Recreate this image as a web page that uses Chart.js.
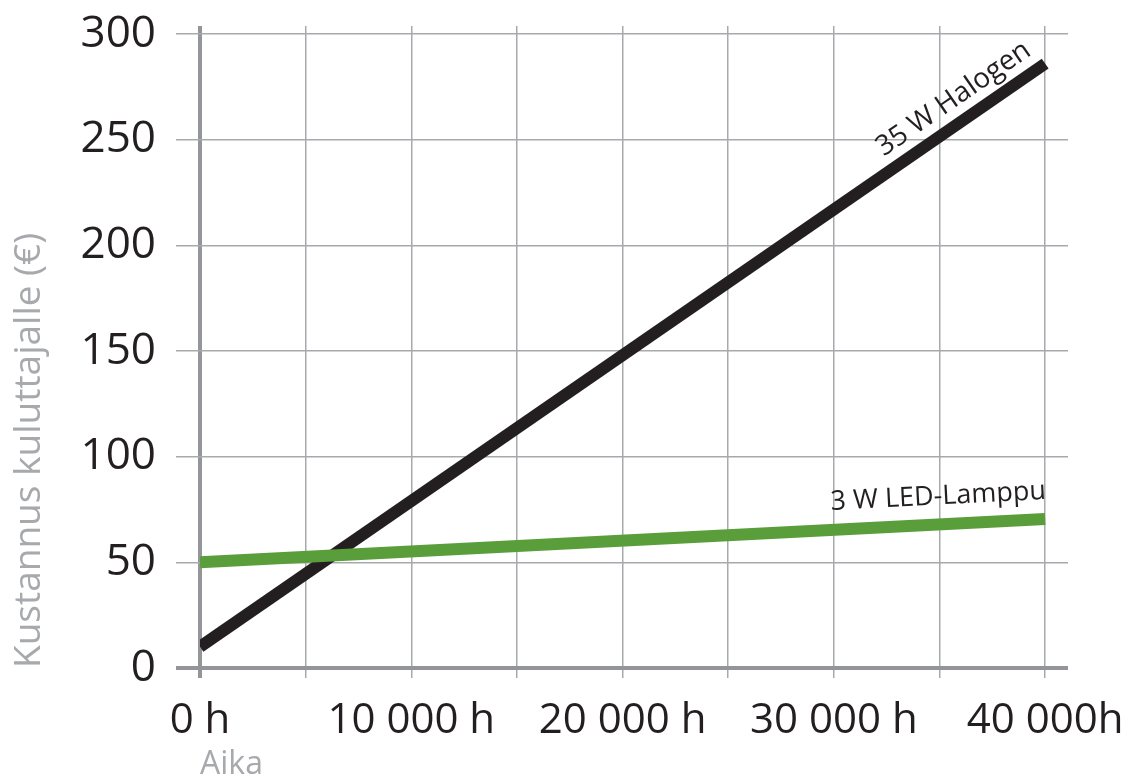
<!DOCTYPE html>
<html>
<head>
<meta charset="utf-8">
<script src="https://cdn.jsdelivr.net/npm/chart.js@4.4.0/dist/chart.umd.min.js"></script>
<style>
  html, body { margin: 0; padding: 0; background: #fff; }
  #wrap { width: 1144px; height: 782px; }
</style>
</head>
<body>
<div id="wrap"><canvas id="c"></canvas></div>
<script>
  // data
  var hours = [0, 40000];
  var halogenCost = [10, 286];
  var ledCost = [50, 70.5];
  var seriesNames = ['3 W LED-Lamppu', '35 W Halogen'];
  var xGridValues = [0, 5000, 10000, 15000, 20000, 25000, 30000, 35000, 40000];
  var xTickValues = [0, 10000, 20000, 30000, 40000];
  var xTickLabels = ['0 h', '10 000 h', '20 000 h', '30 000 h', '40 000h'];
  var yTickValues = [0, 50, 100, 150, 200, 250, 300];

  var ink = '#231f20',
    gridCol = '#a7a9ac',
    axisCol = '#939598',
    titleCol = '#a7a9ac',
    font = "'Open Sans', 'DejaVu Sans', sans-serif";

  function pts(ys) {
    return hours.map(function (h, i) { return { x: h, y: ys[i] }; });
  }

  // writes the series name along its line
  var lineLabels = {
    id: 'lineLabels',
    afterDatasetsDraw: function (chart, args, opts) {
      var ctx = chart.ctx, xs = chart.scales.x, ys = chart.scales.y;
      opts.items.forEach(function (it) {
        var ds = chart.data.datasets[it.dataset];
        var p0 = ds.data[0], p1 = ds.data[ds.data.length - 1];
        var x0 = xs.getPixelForValue(p0.x), y0 = ys.getPixelForValue(p0.y);
        var x1 = xs.getPixelForValue(p1.x), y1 = ys.getPixelForValue(p1.y);
        var ang = Math.atan2(y1 - y0, x1 - x0);
        var t = (it.at - p0.x) / (p1.x - p0.x);
        var px = x0 + (x1 - x0) * t, py = y0 + (y1 - y0) * t;
        ctx.save();
        ctx.translate(px, py);
        ctx.rotate(ang);
        ctx.font = it.size + 'px ' + font;
        ctx.fillStyle = ink;
        ctx.textAlign = 'right';
        ctx.textBaseline = 'alphabetic';
        ctx.fillText(ds.label, 0, -it.offset);
        ctx.restore();
      });
    }
  };

  function asTicks(vals) {
    return vals.map(function (v) { return { value: v }; });
  }

  new Chart(document.getElementById('c'), {
    type: 'line',
    data: {
      datasets: [
        { label: seriesNames[0], data: pts(ledCost), borderColor: '#5a9e3c', borderWidth: 12, pointRadius: 0, tension: 0 },
        { label: seriesNames[1], data: pts(halogenCost), borderColor: ink, borderWidth: 12, pointRadius: 0, tension: 0 }
      ]
    },
    options: {
      responsive: true,
      maintainAspectRatio: false,
      animation: false,
      devicePixelRatio: 1,
      layout: { padding: { top: 26, right: 76, left: 0, bottom: 0 } },
      plugins: {
        legend: { display: false },
        tooltip: { enabled: false },
        lineLabels: {
          items: [
            { dataset: 0, at: 40100, offset: 20, size: 27 },
            { dataset: 1, at: 39800, offset: 15, size: 28 }
          ]
        }
      },
      scales: {
        x: {
          type: 'linear',
          min: 0,
          max: 41080,
          afterBuildTicks: function (s) { s.ticks = asTicks(xGridValues); },
          afterFit: function (s) { s.height = 114; },
          ticks: {
            autoSkip: false,
            maxRotation: 0,
            padding: 18,
            color: ink,
            font: { family: font, size: 42 },
            callback: function (v) {
              var i = xTickValues.indexOf(v);
              return i < 0 ? '' : xTickLabels[i];
            }
          },
          grid: {
            color: function (c) { return c.tick && c.tick.value === 0 ? axisCol : gridCol; },
            lineWidth: function (c) { return c.tick && c.tick.value === 0 ? 4 : 1.5; },
            tickLength: 10
          },
          border: { display: false },
          title: {
            display: true,
            text: 'Aika',
            align: 'start',
            color: titleCol,
            font: { family: font, size: 32, lineHeight: 1.1 },
            padding: { top: 0, bottom: 0 }
          }
        },
        y: {
          min: 0,
          max: 303.8,
          afterBuildTicks: function (s) { s.ticks = asTicks(yTickValues); },
          afterFit: function (s) { s.width = 200; },
          ticks: {
            padding: 20,
            color: ink,
            // small lineHeight keeps the top label from pushing the plot down
            font: { family: font, size: 44, lineHeight: 0.25 }
          },
          grid: {
            color: function (c) { return c.tick && c.tick.value === 0 ? axisCol : gridCol; },
            lineWidth: function (c) { return c.tick && c.tick.value === 0 ? 4 : 1.5; },
            tickLength: 24
          },
          border: { display: false },
          title: {
            display: true,
            text: 'Kustannus kuluttajalle (€)',
            align: 'start',
            color: titleCol,
            font: { family: font, size: 37, lineHeight: 1.1 },
            padding: { top: 9, bottom: 0 }
          }
        }
      }
    },
    plugins: [lineLabels]
  });
</script>
</body>
</html>
